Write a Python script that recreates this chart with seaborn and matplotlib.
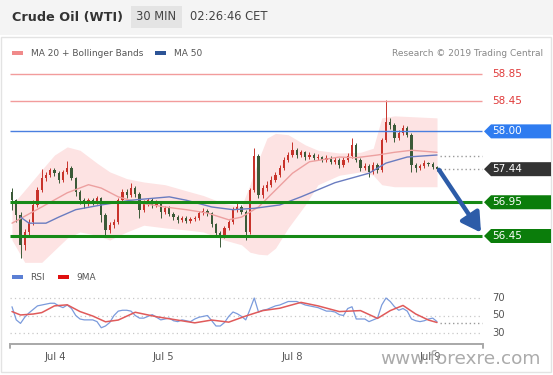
import numpy as np
import pandas as pd
import matplotlib
matplotlib.use("Agg")
import matplotlib.pyplot as plt
import seaborn as sns
from matplotlib.patches import Polygon, Rectangle

sns.set_theme(style="white")
plt.rcParams['font.family'] = ['DejaVu Sans']

# ---------------- data (30-min candles, index 0..100) ----------------
opens = [57.10, 56.98, 56.76, 56.32, 56.51, 56.66, 56.91, 57.13, 57.31, 57.35,
         57.43, 57.38, 57.28, 57.40, 57.46, 57.31, 57.10, 56.98, 56.92, 56.98,
         56.95, 57.01, 56.76, 56.54, 56.61, 56.66, 56.98, 57.10, 57.06, 57.16,
         57.07, 56.84, 56.94, 56.98, 56.91, 56.94, 56.81, 56.87, 56.78, 56.73,
         56.69, 56.72, 56.67, 56.70, 56.72, 56.79, 56.82, 56.79, 56.63, 56.49,
         56.45, 56.57, 56.66, 56.84, 56.88, 56.81, 56.51, 57.13, 57.63, 57.06,
         57.16, 57.21, 57.28, 57.35, 57.46, 57.58, 57.65, 57.72, 57.65, 57.69,
         57.62, 57.65, 57.61, 57.62, 57.58, 57.61, 57.55, 57.58, 57.50, 57.58,
         57.64, 57.80, 57.58, 57.46, 57.49, 57.40, 57.50, 57.43, 57.87, 58.14,
         58.09, 57.90, 57.98, 58.05, 57.95, 57.50, 57.46, 57.49, 57.53, 57.52,
         57.47]
closes = [56.98, 56.76, 56.32, 56.51, 56.66, 56.91, 57.13, 57.31, 57.35, 57.43,
          57.38, 57.28, 57.40, 57.46, 57.31, 57.10, 56.98, 56.92, 56.98, 56.95,
          57.01, 56.76, 56.54, 56.61, 56.66, 56.98, 57.10, 57.06, 57.16, 57.07,
          56.84, 56.94, 56.98, 56.91, 56.94, 56.81, 56.87, 56.78, 56.73, 56.69,
          56.72, 56.67, 56.70, 56.72, 56.79, 56.82, 56.79, 56.63, 56.49, 56.45,
          56.57, 56.66, 56.84, 56.88, 56.81, 56.51, 57.13, 57.63, 57.06, 57.16,
          57.21, 57.28, 57.35, 57.46, 57.58, 57.65, 57.72, 57.65, 57.69, 57.62,
          57.65, 57.61, 57.62, 57.58, 57.61, 57.55, 57.58, 57.50, 57.58, 57.64,
          57.80, 57.58, 57.46, 57.49, 57.40, 57.50, 57.43, 57.87, 58.14, 58.09,
          57.90, 57.98, 58.05, 57.95, 57.50, 57.46, 57.49, 57.53, 57.52, 57.47,
          57.44]
highs = [57.16, 57.00, 56.80, 56.55, 56.70, 56.98, 57.18, 57.44, 57.40, 57.46,
         57.46, 57.41, 57.43, 57.56, 57.48, 57.33, 57.13, 57.02, 57.02, 57.01,
         57.04, 57.03, 56.79, 56.66, 56.70, 57.02, 57.15, 57.14, 57.24, 57.19,
         57.10, 56.98, 57.02, 57.01, 56.98, 56.96, 56.90, 56.89, 56.80, 56.76,
         56.75, 56.74, 56.73, 56.75, 56.82, 56.86, 56.85, 56.81, 56.65, 56.52,
         56.60, 56.69, 56.88, 56.94, 56.91, 56.83, 57.16, 57.75, 57.66, 57.20,
         57.26, 57.34, 57.40, 57.50, 57.62, 57.70, 57.84, 57.76, 57.73, 57.71,
         57.69, 57.68, 57.66, 57.64, 57.65, 57.63, 57.62, 57.60, 57.62, 57.68,
         57.90, 57.83, 57.60, 57.53, 57.51, 57.54, 57.53, 57.90, 58.47, 58.20,
         58.12, 58.02, 58.09, 58.08, 57.97, 57.53, 57.52, 57.57, 57.55, 57.54,
         57.49]
lows = [56.84, 56.66, 56.12, 56.24, 56.45, 56.62, 56.88, 57.10, 57.26, 57.32,
        57.34, 57.24, 57.25, 57.37, 57.28, 57.05, 56.93, 56.87, 56.89, 56.91,
        56.92, 56.66, 56.46, 56.50, 56.57, 56.63, 56.95, 57.02, 57.03, 57.03,
        56.72, 56.80, 56.90, 56.87, 56.88, 56.72, 56.78, 56.74, 56.69, 56.65,
        56.66, 56.64, 56.65, 56.67, 56.69, 56.76, 56.75, 56.58, 56.44, 56.29,
        56.42, 56.54, 56.63, 56.80, 56.77, 56.39, 56.48, 57.10, 57.01, 57.02,
        57.12, 57.18, 57.25, 57.32, 57.43, 57.55, 57.62, 57.61, 57.62, 57.58,
        57.59, 57.57, 57.58, 57.54, 57.55, 57.51, 57.52, 57.46, 57.47, 57.55,
        57.61, 57.54, 57.42, 57.43, 57.32, 57.37, 57.38, 57.40, 57.84, 58.04,
        57.85, 57.87, 57.95, 57.91, 57.40, 57.40, 57.43, 57.46, 57.48, 57.44,
        57.41]

# Moving averages / Bollinger bands (read at sample candles)
ma20_idx = [0, 7, 13, 18, 21, 25, 30, 36, 41, 46, 51, 54, 58, 62, 66, 70, 77, 81, 86, 90, 94, 100]
ma20_val = [56.64, 56.88, 57.09, 57.21, 57.16, 57.03, 56.94, 56.88, 56.84, 56.79, 56.69,
            56.73, 56.88, 57.13, 57.38, 57.55, 57.62, 57.61, 57.65, 57.69, 57.72, 57.69]
ma50_idx = [2, 4, 8, 11, 15, 21, 28, 37, 41, 47, 52, 57, 63, 68, 76, 84, 88, 93, 100]
ma50_val = [56.73, 56.64, 56.64, 56.73, 56.84, 56.91, 56.98, 57.03, 56.98, 56.88, 56.84,
            56.86, 56.91, 57.03, 57.24, 57.38, 57.53, 57.62, 57.65]
bb_idx = [0, 3, 7, 10, 13, 16, 20, 23, 27, 31, 36, 41, 45, 50, 54, 56, 58, 60, 62, 65,
          69, 72, 77, 82, 85, 87, 90, 100]
bb_upper = [56.91, 57.13, 57.43, 57.65, 57.77, 57.72, 57.53, 57.40, 57.30, 57.25, 57.21,
            57.12, 57.05, 56.93, 56.89, 57.21, 57.58, 57.90, 57.97, 57.95, 57.80, 57.72,
            57.68, 57.69, 57.75, 58.20, 58.23, 58.20]
bb_lower = [56.39, 56.06, 56.06, 56.24, 56.42, 56.51, 56.46, 56.39, 56.51, 56.61, 56.57,
            56.54, 56.51, 56.39, 56.32, 56.21, 56.18, 56.17, 56.27, 56.57, 56.91, 57.21,
            57.35, 57.40, 57.35, 57.21, 57.18, 57.18]

# RSI and its 9-period MA
rsi = [60, 45, 41, 48, 53, 57, 61, 62, 63, 64,
       64, 61, 59, 62, 58, 50, 46, 45, 45, 45,
       43, 36, 38, 42, 50, 55, 56, 56, 55, 50,
       47, 47, 49, 51, 48, 45, 46, 47, 44, 43,
       45, 44, 43, 46, 48, 49, 50, 44, 38, 38,
       42, 49, 54, 52, 49, 45, 57, 70, 54, 56,
       57, 59, 61, 62, 64, 66, 66, 66, 64, 62,
       61, 60, 59, 57, 55, 55, 54, 51, 50, 58,
       60, 46, 46, 46, 43, 45, 47, 62, 70, 66,
       60, 56, 58, 55, 46, 44, 43, 44, 46, 47,
       43]
rsi9_idx = [0, 2, 5, 7, 10, 13, 16, 19, 22, 25, 29, 34, 38, 43, 47, 51, 55, 59, 63, 68,
            72, 77, 82, 86, 89, 92, 95, 98, 100]
rsi9_val = [54.5, 50.6, 51.7, 53.3, 61.0, 62.2, 54.5, 49.4, 42.8, 44.8, 53.7, 48.6, 45.5,
            41.6, 44.8, 42.4, 49.4, 55.6, 58.3, 65.0, 61.0, 54.5, 55.6, 46.7, 55.6, 61.5,
            51.7, 44.8, 42.0]

levels = [58.85, 58.45, 58.00, 57.44, 56.95, 56.45]
level_labels = ["58.85", "58.45", "58.00", "57.44", "56.95", "56.45"]
ma50_last = 57.64
rsi_levels = [70, 50, 30]
rsi_last = 42
date_ticks = [10.1, 35.5, 65.9, 98.4]
date_labels = ["Jul 4", "Jul 5", "Jul 8", "Jul 9"]

# ---------------- layout helpers ----------------
W, H = 553, 375
X0, DX = 12.0, 4.25          # pixel of candle 0, pixels per candle


def ix(px):
    return (px - X0) / DX


def fx(px):
    return px / W


def fy(py):
    return 1 - py / H


fig = plt.figure(figsize=(W / 100, H / 100), dpi=100)
fig.patch.set_facecolor("white")

# header band
fig.add_artist(Rectangle((0, fy(35)), 1, 35 / H, transform=fig.transFigure,
                         facecolor="#f4f4f4", edgecolor="none", zorder=0))
fig.add_artist(Rectangle((fx(131), fy(28)), 51 / W, 22 / H, transform=fig.transFigure,
                         facecolor="#e4e4e4", edgecolor="none", zorder=1))
fig.add_artist(Rectangle((fx(1), fy(372)), 550 / W, 335 / H, transform=fig.transFigure,
                         facecolor="none", edgecolor="#e3e3e3", lw=1, zorder=0))
fig.text(fx(12), fy(17), "Crude Oil (WTI)", fontsize=9.2, fontweight="bold",
         color="#333333", va="center", ha="left")
fig.text(fx(156.5), fy(17), "30 MIN", fontsize=8.3, color="#444444", va="center", ha="center")
fig.text(fx(190), fy(17), "02:26:46 CET", fontsize=8.3, color="#444444", va="center", ha="left")

# legends
fig.add_artist(Rectangle((fx(12), fy(55)), 11 / W, 4 / H, transform=fig.transFigure,
                         facecolor="#f08a8a", edgecolor="none"))
fig.text(fx(31), fy(53), "MA 20 + Bollinger Bands", fontsize=6.5, color="#555555",
         va="center", ha="left")
fig.add_artist(Rectangle((fx(155), fy(55)), 11 / W, 4 / H, transform=fig.transFigure,
                         facecolor="#2c5496", edgecolor="none"))
fig.text(fx(174), fy(53), "MA 50", fontsize=6.5, color="#555555", va="center", ha="left")
fig.text(fx(543), fy(53), "Research \u00a9 2019 Trading Central", fontsize=6.5,
         color="#888888", va="center", ha="right")

fig.add_artist(Rectangle((fx(12), fy(279)), 11 / W, 4 / H, transform=fig.transFigure,
                         facecolor="#5b7fd4", edgecolor="none"))
fig.text(fx(30), fy(277), "RSI", fontsize=6.5, color="#555555", va="center", ha="left")
fig.add_artist(Rectangle((fx(58), fy(279)), 11 / W, 4 / H, transform=fig.transFigure,
                         facecolor="#e01010", edgecolor="none"))
fig.text(fx(76), fy(277), "9MA", fontsize=6.5, color="#555555", va="center", ha="left")

# ---------------- main price panel ----------------
ax = fig.add_axes([fx(10), fy(264), (W - 10) / W, (264 - 62) / H])
ax.set_facecolor("none")
PPX = 67.5  # pixels per price unit
ax.set_xlim(ix(10), ix(W))
ax.set_ylim(58.85 - (264 - 74) / PPX, 58.85 + (74 - 62) / PPX)
for s in ax.spines.values():
    s.set_visible(False)
ax.set_xticks([])
ax.set_yticks([])

# Bollinger bands
ax.fill_between(bb_idx, bb_lower, bb_upper, color="#fde3e3", lw=0, zorder=1)

# candles
n = len(closes)
idx = np.arange(n)
o = np.array(opens)
c = np.array(closes)
up = c >= o
cols = np.where(up, "#c8332b", "#3b5a38")
ax.vlines(idx, lows, highs, colors=cols, lw=0.7, zorder=3)
body_lo = np.minimum(o, c)
body_h = np.maximum(np.abs(c - o), 0.012)
ax.bar(idx, body_h, bottom=body_lo, width=0.58, color=cols, lw=0, zorder=4)

# moving averages (seaborn)
sns.lineplot(x=ma20_idx, y=ma20_val, ax=ax, color="#eda0a0", lw=1, zorder=5, legend=False)
sns.lineplot(x=ma50_idx, y=ma50_val, ax=ax, color="#6a7cc0", lw=1, zorder=5, legend=False)

# horizontal levels
xend = ix(482)
line_styles = [("#f29c9c", 1.0), ("#f29c9c", 1.0), ("#4a7fe0", 1.0),
               (None, 0), ("#178a17", 2.2), ("#178a17", 2.2)]
for v, (col, lw) in zip(levels, line_styles):
    if col is not None:
        ax.hlines(v, ix(10), xend, colors=col, lw=lw, zorder=6)
ax.hlines([levels[3], ma50_last], ix(440), xend, colors="#9a9a9a", lw=1,
          linestyles=(0, (1, 2)), zorder=6)

half = 7 / PPX
box_cols = [None, None, "#2f7cf0", "#333333", "#0b7d0b", "#0b7d0b"]
for v, lab, bc in zip(levels, level_labels, box_cols):
    if bc is None:
        ax.text(ix(492), v, lab, fontsize=7.5, color="#e03a3a", va="center", ha="left", zorder=8)
    else:
        poly = Polygon([(ix(484), v), (ix(491), v + half), (ix(W - 2), v + half),
                        (ix(W - 2), v - half), (ix(491), v - half)],
                       closed=True, facecolor=bc, edgecolor="none", zorder=7)
        ax.add_patch(poly)
        ax.text(ix(492), v, lab, fontsize=7.5, color="white", va="center", ha="left", zorder=8)

# forecast arrow
ax.annotate("", xy=(ix(481), levels[5] + 0.05), xytext=(ix(439), closes[-1] - 0.01),
            arrowprops=dict(arrowstyle="-|>,head_width=0.55,head_length=0.95",
                            color="#2d5ca8", lw=3.2, shrinkA=0, shrinkB=0),
            zorder=9)

# ---------------- RSI panel ----------------
ax2 = fig.add_axes([fx(10), fy(350), (W - 10) / W, (350 - 285) / H])
ax2.set_facecolor("none")
RPX = 0.875
ax2.set_xlim(ix(10), ix(W))
ax2.set_ylim(70 - (350 - 298) / RPX, 70 + (298 - 285) / RPX)
for s in ax2.spines.values():
    s.set_visible(False)
ax2.set_yticks([])

ax2.hlines(rsi_levels, ix(10), xend, colors="#c8c8c8", lw=0.9,
           linestyles=(0, (1, 2.5)), zorder=1)
for lv in rsi_levels:
    ax2.text(ix(492), lv, str(lv), fontsize=7.2, color="#555555", va="center", ha="left")

sns.lineplot(x=idx, y=rsi, ax=ax2, color="#7b9bdc", lw=0.9, zorder=3, legend=False)
sns.lineplot(x=rsi9_idx, y=rsi9_val, ax=ax2, color="#e05a5a", lw=1.1, zorder=4, legend=False)
ax2.hlines(rsi_last, ix(440), xend, colors="#9a9a9a", lw=1, linestyles=(0, (1, 2)), zorder=2)

# time axis line with end ticks
yb = 70 - (344 - 298) / RPX
yt = 70 - (348 - 298) / RPX
ax2.plot([ix(10), ix(10), ix(483), ix(483)], [yt, yb, yb, yt], color="#a8a8a8", lw=1.4,
         solid_joinstyle="miter", clip_on=False, zorder=2)
ax2.set_xticks(date_ticks)
ax2.set_xticklabels(date_labels)
ax2.tick_params(axis="x", length=0, pad=1.5, labelsize=7.2, labelcolor="#555555")

# watermark
fig.text(fx(380), fy(359), "www.forexre.com", fontsize=13.3, color="#9c9c9c",
         alpha=0.85, va="center", ha="left")

fig.savefig("out.png", dpi=100)
